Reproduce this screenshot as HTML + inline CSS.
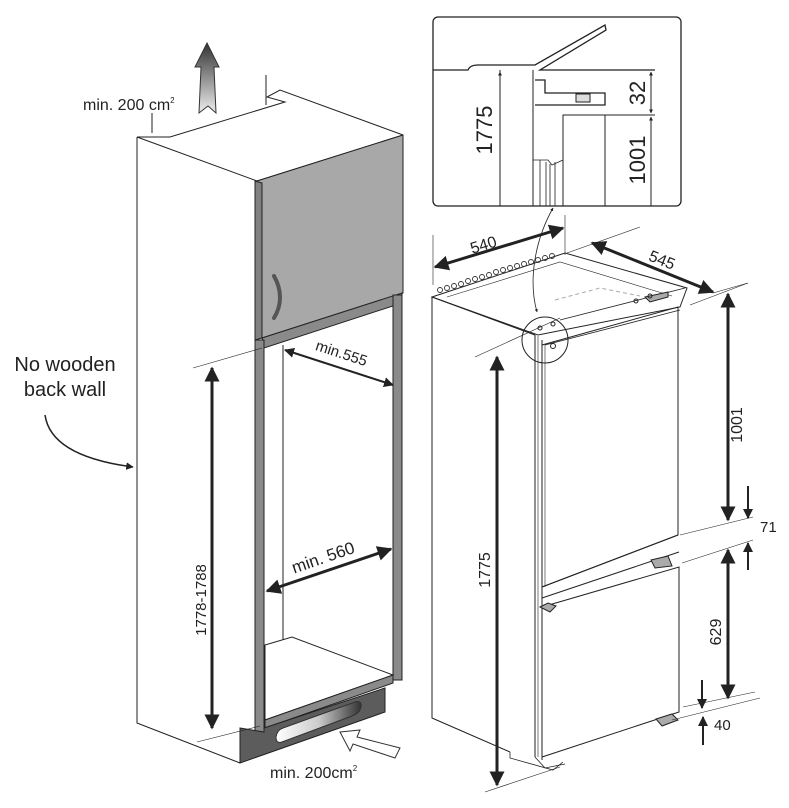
<!DOCTYPE html>
<html><head><meta charset="utf-8"><style>
html,body{margin:0;padding:0;background:#fff;}
svg{display:block;font-family:"Liberation Sans",Arial,sans-serif;}
</style></head><body>
<svg width="789" height="808" viewBox="0 0 789 808" xmlns="http://www.w3.org/2000/svg">
<defs>
<marker id="ah" viewBox="0 0 10 10" refX="9" refY="5" markerWidth="4" markerHeight="4" orient="auto-start-reverse"><path d="M0,0 L10,5 L0,10 z" fill="#222"/></marker>
<marker id="as" viewBox="0 0 10 10" refX="9" refY="5" markerWidth="5" markerHeight="5" orient="auto-start-reverse"><path d="M0,0 L10,5 L0,10 z" fill="#222"/></marker>
<linearGradient id="up" x1="0" y1="0" x2="0" y2="1"><stop offset="0" stop-color="#333"/><stop offset="1" stop-color="#eee"/></linearGradient>
<linearGradient id="slot" x1="0" y1="0" x2="1" y2="0"><stop offset="0" stop-color="#fff"/><stop offset="0.5" stop-color="#ccc"/><stop offset="1" stop-color="#333"/></linearGradient>
</defs>
<g stroke="#222" stroke-width="1" fill="none">
<!-- LEFT CABINET -->
<path d="M137,137 L137,723 L240,763" />
<path d="M137,137 L170,137 L285,102 L267,97 L280,90 L403,135" fill="#fff"/>
<path d="M137,137 L257,181 L403,135"/>
<line x1="152" y1="113" x2="152" y2="133"/>
<line x1="266" y1="75" x2="266" y2="105"/>
<path d="M257,181 L403,135 L403,293 L262,338 Z" fill="#a8a8a8"/>
<path d="M255,181 L262,183 L262,338 L255,340 Z" fill="#808080"/>
<path d="M274,276 C282,290 282,305 274,318" stroke="#555" stroke-width="4" stroke-linecap="round"/>
<path d="M262,338 L402,293 L402,303 L264,348 Z" fill="#8a8a8a"/>
<rect x="255" y="340" width="9" height="392" fill="#8a8a8a"/>
<rect x="393" y="295" width="9" height="385" fill="#8a8a8a"/>
<line x1="283" y1="345" x2="283" y2="640"/>
<path d="M265,645 L292,637 L393,675 L265,720 Z" fill="#fff"/>
<path d="M265,720 L393,675 L393,683 L265,728 Z" fill="#8a8a8a"/>
<path d="M240,728 L264,732 L264,728 L385,688 L385,712 L240,763 Z" fill="#5c5c5c"/>
<path d="M283,728 L355,702 Q362,700 361,707 Q360,713 352,716 L282,742 Q276,744 276,737 Q277,730 283,728 Z" fill="url(#slot)" stroke="#333"/>
<!-- up arrow -->
<path d="M207,43 L219,67 L214,67 L216,113 L208,106 L199,113 L201,67 L195,67 Z" fill="url(#up)" stroke="#333"/>
<!-- in arrow -->
<path d="M340,732 L360,730 L357,737 L400,748 L395,758 L353,744 L350,751 Z" fill="#fff" stroke="#333"/>
<!-- 1778 dim -->
<line x1="193" y1="368" x2="262" y2="348" stroke-width="0.6"/>
<line x1="197" y1="742" x2="260" y2="726" stroke-width="0.6"/>
<line x1="212" y1="368" x2="212" y2="728" stroke-width="3" marker-start="url(#as)" marker-end="url(#as)"/>
<line x1="267" y1="591" x2="391" y2="549" stroke-width="3" marker-start="url(#as)" marker-end="url(#as)"/>
<line x1="285" y1="350" x2="393" y2="385" stroke-width="2" marker-start="url(#as)" marker-end="url(#as)"/>
<!-- no wooden arrow -->
<path d="M45,415 C50,450 95,462 133,467" stroke-width="1.5" marker-end="url(#as)"/>

<!-- FRIDGE -->
<path d="M432,297 L432,718 L510,752"/>
<path d="M432,297 L565,253 L687,288 L680,307 L538,335 Z" fill="#fff"/>
<path d="M432,297 L535,335"/>
<path d="M447,297 L560,262 L672,296" stroke-width="0.6"/>
<path d="M555,300 L600,288 L640,296" stroke="#aaa" stroke-dasharray="4,3"/>
<path d="M560,320 L685,288 M545,345 L680,310" stroke-width="0.8"/>
<line x1="535" y1="335" x2="535" y2="757"/>
<line x1="542" y1="340" x2="542" y2="760"/>
<line x1="538" y1="336" x2="538" y2="757" stroke-width="0.6"/>
<path d="M542,345 L678,307 L678,535 L542,587" />
<line x1="545" y1="345" x2="545" y2="587" stroke-width="0.6"/>
<path d="M542,587 L678,535"/>
<path d="M542,598 L679,552 M542,607 L679,567 L679,712 L542,757 Z"/>
<path d="M540,607 L548,603 L556,606 L550,612 Z" fill="#aaa"/>
<path d="M651,560 L668,556 L672,566 L655,568 Z" fill="#aaa"/>
<path d="M656,719 L672,714 L678,720 L662,726 Z" fill="#aaa"/>
<path d="M645,297 L668,292 L668,297 L650,302 Z" fill="#aaa"/>
<path d="M510,752 L510,758 L553,770 L563,762" stroke-width="0.8"/>
<path d="M535,757 L545,768 L565,764" stroke-width="0.8"/>
<circle cx="545" cy="340" r="23"/>
<circle cx="540" cy="328" r="2"/><circle cx="553" cy="324" r="2"/><circle cx="553" cy="346" r="2.5"/><circle cx="636" cy="301" r="2"/><circle cx="650" cy="296" r="2"/>
<!-- 1775 -->
<line x1="475" y1="357" x2="560" y2="318" stroke-width="0.6"/>
<line x1="485" y1="792" x2="560" y2="767" stroke-width="0.6"/>
<line x1="497" y1="357" x2="497" y2="785" stroke-width="3" marker-start="url(#as)" marker-end="url(#as)"/>
<!-- 540 / 545 -->
<line x1="433" y1="235" x2="433" y2="285" stroke-width="0.6"/>
<line x1="565" y1="215" x2="565" y2="255" stroke-width="0.6"/>
<line x1="435" y1="267" x2="563" y2="228" stroke-width="3" marker-start="url(#as)" marker-end="url(#as)"/>
<line x1="567" y1="253" x2="640" y2="227" stroke-width="0.6"/>
<line x1="690" y1="305" x2="748" y2="283" stroke-width="0.6"/>
<line x1="592" y1="243" x2="713" y2="292" stroke-width="3" marker-start="url(#as)" marker-end="url(#as)"/>
<!-- right dims -->
<line x1="713" y1="293" x2="748" y2="283" stroke-width="0.6"/>
<line x1="728" y1="294" x2="728" y2="520" stroke-width="3" marker-start="url(#as)" marker-end="url(#as)"/>
<line x1="680" y1="535" x2="753" y2="517" stroke-width="0.6"/>
<line x1="682" y1="563" x2="753" y2="540" stroke-width="0.6"/>
<line x1="748" y1="486" x2="748" y2="518" stroke-width="2" marker-end="url(#as)"/>
<line x1="748" y1="570" x2="748" y2="543" stroke-width="2" marker-end="url(#as)"/>
<line x1="728" y1="550" x2="728" y2="698" stroke-width="3" marker-start="url(#as)" marker-end="url(#as)"/>
<line x1="683" y1="707" x2="755" y2="692" stroke-width="0.6"/>
<line x1="672" y1="720" x2="760" y2="698" stroke-width="0.6"/>
<line x1="702" y1="680" x2="702" y2="708" stroke-width="2" marker-end="url(#as)"/>
<line x1="703" y1="745" x2="703" y2="717" stroke-width="2" marker-end="url(#as)"/>
<!-- curved leader -->
<path d="M553,208 C535,240 528,280 537,312" stroke-width="0.8" marker-start="url(#ah)" marker-end="url(#ah)"/>

<!-- DETAIL BOX -->
<rect x="433" y="17" width="248" height="189" rx="5" fill="#fff" stroke-width="1.3"/>
<path d="M433,70 L468,70 Q470,65 478,65 L535,65 L605,25 L606,30 L540,70 L655,70" stroke-width="1.3"/>
<line x1="500" y1="70" x2="500" y2="206"/>
<line x1="533" y1="70" x2="533" y2="206"/>
<path d="M535,80 L545,80 L545,93 L605,93 L605,105 L535,105" stroke-width="1.3"/>
<rect x="576" y="94" width="14" height="8" fill="#ddd"/>
<rect x="563" y="115" width="42" height="91"/>
<line x1="605" y1="115" x2="655" y2="115"/>
<path d="M533,160 L548,160 L552,165 L563,160 M540,160 L540,206 M546,162 L546,206 M550,164 L550,206 M555,162 L555,206" stroke-width="0.8"/>
<line x1="500" y1="72" x2="500" y2="206" stroke-width="1" marker-start="url(#ah)"/>
<line x1="651" y1="72" x2="651" y2="113" marker-start="url(#ah)" marker-end="url(#ah)"/>
<line x1="651" y1="117" x2="651" y2="206" marker-start="url(#ah)"/>
</g>
<!-- hinge row -->
<g fill="none" stroke="#333" stroke-width="0.9">
<circle cx="440" cy="290" r="2.5"/><circle cx="447" cy="288" r="2.5"/><circle cx="454" cy="286" r="2.5"/><circle cx="461" cy="284" r="2.5"/><circle cx="468" cy="281" r="2.5"/><circle cx="475" cy="279" r="2.5"/><circle cx="482" cy="277" r="2.5"/><circle cx="489" cy="275" r="2.5"/><circle cx="496" cy="272" r="2.5"/><circle cx="503" cy="270" r="2.5"/><circle cx="510" cy="268" r="2.5"/><circle cx="517" cy="266" r="2.5"/><circle cx="524" cy="264" r="2.5"/><circle cx="531" cy="262" r="2.5"/><circle cx="538" cy="260" r="2.5"/><circle cx="545" cy="258" r="2.5"/><circle cx="552" cy="256" r="2.5"/>
</g>
<g fill="#222">
<text x="83" y="110" font-size="16">min. 200 cm<tspan font-size="8" dy="-7">2</tspan></text>
<text x="65" y="371" font-size="20" text-anchor="middle">No wooden</text>
<text x="65" y="396" font-size="20" text-anchor="middle">back wall</text>
<text x="270" y="778" font-size="16">min. 200cm<tspan font-size="8" dy="-7">2</tspan></text>
<text transform="translate(206,600) rotate(-90)" font-size="15" text-anchor="middle">1778-1788</text>
<text transform="translate(325,563) rotate(-19)" font-size="17" text-anchor="middle">min. 560</text>
<text transform="translate(340,358) rotate(18)" font-size="15" text-anchor="middle">min.555</text>
<text transform="translate(490,570) rotate(-90)" font-size="16" text-anchor="middle">1775</text>
<text transform="translate(485,250) rotate(-17)" font-size="16" text-anchor="middle">540</text>
<text transform="translate(660,265) rotate(22)" font-size="16" text-anchor="middle">545</text>
<text transform="translate(742,425) rotate(-90)" font-size="16" text-anchor="middle">1001</text>
<text x="760" y="532" font-size="15">71</text>
<text transform="translate(721,632) rotate(-90)" font-size="16" text-anchor="middle">629</text>
<text x="714" y="730" font-size="15">40</text>
<text transform="translate(492,130) rotate(-90)" font-size="22" text-anchor="middle">1775</text>
<text transform="translate(645,93) rotate(-90)" font-size="22" text-anchor="middle">32</text>
<text transform="translate(645,160) rotate(-90)" font-size="22" text-anchor="middle">1001</text>
</g>
</svg>
</body></html>
